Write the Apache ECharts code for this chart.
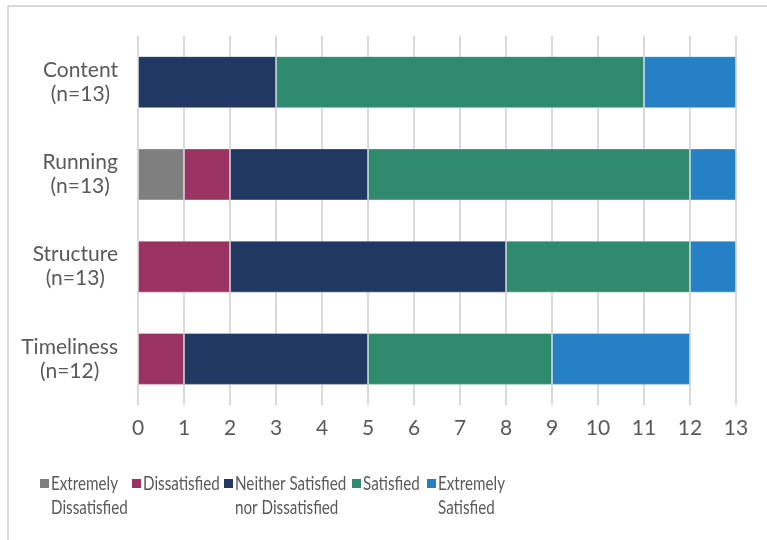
<!DOCTYPE html>
<html>
<head>
<meta charset="utf-8">
<script src="https://cdn.jsdelivr.net/npm/echarts@6/dist/echarts.min.js"></script>
<style>
  html, body { margin: 0; padding: 0; background: #ffffff; }
  #chart { width: 767px; height: 540px; }
</style>
</head>
<body>
<div id="chart"></div>
<script>
// Survey aspects (top to bottom) and respondent counts
const aspects = ['Content', 'Running', 'Structure', 'Timeliness'];
const respondents = [13, 13, 13, 12];

// Satisfaction levels, in stacking order
const levels = ['Extremely Dissatisfied', 'Dissatisfied', 'Neither Satisfied nor Dissatisfied', 'Satisfied', 'Extremely Satisfied'];
const levelLabels = ['Extremely\nDissatisfied', 'Dissatisfied', 'Neither Satisfied\nnor Dissatisfied', 'Satisfied', 'Extremely\nSatisfied'];
const levelColors = ['#7f7f7f', '#9b3362', '#213863', '#2f8a6e', '#2580c6'];

// Number of responses per level, one entry per aspect
const extremelyDissatisfied = [0, 1, 0, 0];
const dissatisfied          = [0, 1, 2, 1];
const neither               = [3, 3, 6, 4];
const satisfied             = [8, 7, 4, 4];
const extremelySatisfied    = [2, 1, 1, 3];

// Value axis ticks
const xTicks = [0, 1, 2, 3, 4, 5, 6, 7, 8, 9, 10, 11, 12, 13];

const seriesValues = [extremelyDissatisfied, dissatisfied, neither, satisfied, extremelySatisfied];
const FONT = 'Lato';
const TEXT = '#595959';

// Key along the bottom: swatch left edges, condensed two-line labels
const keyLeft = [40, 132, 224, 352, 427];
const keyTop = 472;
const keyGraphics = [];
levels.forEach(function (name, i) {
  keyGraphics.push({
    type: 'rect',
    shape: { x: keyLeft[i], y: keyTop + 7, width: 9, height: 9 },
    style: { fill: levelColors[i] },
    silent: true
  });
  keyGraphics.push({
    type: 'text',
    x: keyLeft[i] + 11,
    y: keyTop,
    scaleX: 0.8,
    style: {
      text: levelLabels[i],
      fontFamily: FONT,
      fontSize: 19,
      lineHeight: 24,
      fill: TEXT,
      align: 'left',
      verticalAlign: 'top'
    },
    silent: true
  });
});

const chart = echarts.init(document.getElementById('chart'), null, { renderer: 'canvas' });

chart.setOption({
  backgroundColor: '#ffffff',
  animation: false,
  textStyle: { fontFamily: FONT, color: TEXT },
  graphic: [
    { type: 'line', shape: { x1: 8, y1: 6, x2: 767, y2: 6 }, style: { stroke: '#d9d9d9', lineWidth: 2 }, silent: true },
    { type: 'line', shape: { x1: 8, y1: 6, x2: 8, y2: 540 }, style: { stroke: '#d9d9d9', lineWidth: 2 }, silent: true }
  ].concat(keyGraphics),
  grid: { left: 138, right: 31, top: 36, bottom: 135, containLabel: false },
  xAxis: {
    type: 'value',
    min: xTicks[0],
    max: xTicks[xTicks.length - 1],
    interval: 1,
    axisLine: { show: false },
    axisTick: { show: false },
    splitLine: { show: true, lineStyle: { color: '#d9d9d9', width: 2 } },
    axisLabel: { fontFamily: FONT, fontSize: 21, color: TEXT, margin: 13 }
  },
  yAxis: {
    type: 'category',
    data: aspects,
    inverse: true,
    axisLine: { show: false },
    axisTick: { show: false },
    axisLabel: {
      margin: 20,
      formatter: function (value, idx) {
        return '{c|' + value + '}\n{c|(n=' + respondents[idx] + ')}';
      },
      rich: {
        c: { align: 'center', fontFamily: FONT, fontSize: 21, lineHeight: 24, color: TEXT }
      }
    }
  },
  series: levels.map(function (name, i) {
    return {
      name: name,
      type: 'bar',
      stack: 'total',
      barWidth: 52,
      itemStyle: { color: levelColors[i], borderColor: 'rgba(255,255,255,0.35)', borderWidth: 1 },
      emphasis: { disabled: true },
      data: seriesValues[i]
    };
  })
});
</script>
</body>
</html>
